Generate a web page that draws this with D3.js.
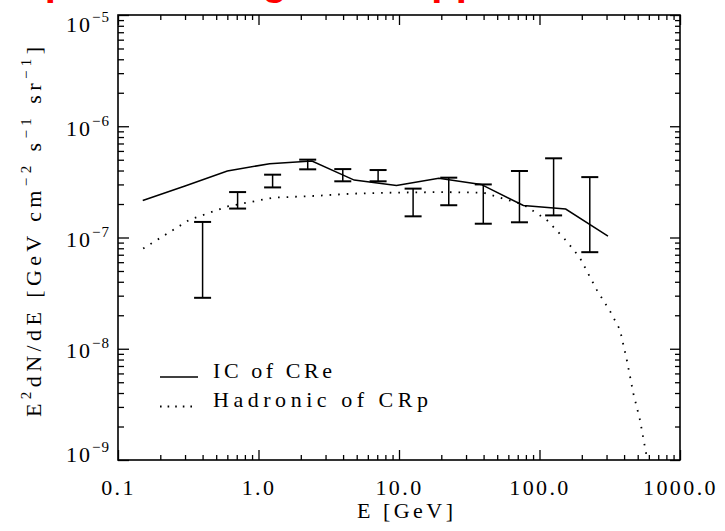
<!DOCTYPE html>
<html>
<head>
<meta charset="utf-8">
<script src="https://cdn.jsdelivr.net/npm/d3@7"></script>
<style>
  html, body { margin: 0; padding: 0; background: #fff; }
  svg { display: block; }
  text { font-family: "Liberation Serif", "DejaVu Serif", serif; fill: #000; }
</style>
</head>
<body>
<svg id="chart" width="725" height="531"></svg>
<script>
// Inverse-Compton model of cosmic-ray electrons
const icEnergy = [0.15, 0.3, 0.6, 1.2, 2.4, 4.8, 9.6, 19.2, 38.4, 76.8, 153.6, 307.2];
const icFlux   = [2.15e-7, 2.9e-7, 3.96e-7, 4.61e-7, 4.87e-7, 3.28e-7, 2.94e-7, 3.40e-7, 3.0e-7, 1.94e-7, 1.80e-7, 1.03e-7];

// Hadronic (pion decay) model of cosmic-ray protons
const hadEnergy = [0.151, 0.325, 0.61, 1.27, 2.44, 4.71, 9.06, 19.6, 39.8, 76.7, 112, 156, 194, 255, 318, 374, 418, 465, 519, 582];
const hadFlux   = [7.96e-8, 1.45e-7, 1.91e-7, 2.28e-7, 2.36e-7, 2.48e-7, 2.53e-7, 2.56e-7, 2.53e-7, 1.98e-7, 1.45e-7, 9.27e-8, 6.56e-8, 3.40e-8, 2.17e-8, 1.48e-8, 7.96e-9, 3.99e-9, 2.29e-9, 1.04e-9];

// Measured spectrum: energy bins with lower / upper flux bounds
const obsEnergy = [0.40, 0.71, 1.26, 2.24, 3.98, 7.1, 12.6, 22.6, 39.8, 72, 126, 228];
const obsLow    = [2.87e-8, 1.82e-7, 2.82e-7, 4.10e-7, 3.20e-7, 3.20e-7, 1.55e-7, 1.95e-7, 1.33e-7, 1.37e-7, 1.58e-7, 7.38e-8];
const obsHigh   = [1.38e-7, 2.56e-7, 3.67e-7, 5.01e-7, 4.12e-7, 4.04e-7, 2.75e-7, 3.45e-7, 3.0e-7, 3.96e-7, 5.15e-7, 3.49e-7];

// Axis ticks
const xMajor = [0.1, 1, 10, 100, 1000];
const xMinor = [-1, 0, 1, 2].flatMap(k => [2,3,4,5,6,7,8,9].map(m => m * Math.pow(10, k)));
const yMajorExp = [-9, -8, -7, -6, -5];
const yMinor = [-9, -8, -7, -6].flatMap(k => [2,3,4,5,6,7,8,9].map(m => m * Math.pow(10, k)));

const titleText = "Spectra fitting: both approaches";
const legendLabels = ["IC of CRe", "Hadronic of CRp"];

const pLeft = 118, pRight = 680, pTop = 15, pBottom = 460;

const svg = d3.select("#chart");

const x = d3.scaleLog().domain([0.1, 1000]).range([pLeft, pRight]);
const y = d3.scaleLog().domain([1e-9, 1e-5]).range([pBottom, pTop]);

// Title (sits above the page top, only descenders remain on screen)
svg.append("text")
  .attr("x", 18).attr("y", -5)
  .style("font-family", "'Liberation Sans', Arial, sans-serif")
  .style("font-weight", "bold")
  .style("font-size", "40px")
  .style("fill", "#ff0000")
  .text(titleText);

svg.append("clipPath").attr("id", "clip")
  .append("rect").attr("x", pLeft).attr("y", pTop)
  .attr("width", pRight - pLeft).attr("height", pBottom - pTop);

// Axes with inward ticks on all four sides
function styleAxis(g) {
  g.select(".domain").remove();
  g.selectAll(".tick line").attr("stroke", "#000").attr("stroke-width", 1.3);
}
const fmtX = d3.format(".1f");

svg.append("g").attr("transform", `translate(0,${pBottom})`)
  .call(d3.axisBottom(x).tickValues(xMinor).tickSize(-5).tickFormat(""))
  .call(styleAxis);
const xb = svg.append("g").attr("transform", `translate(0,${pBottom})`)
  .call(d3.axisBottom(x).tickValues(xMajor).tickSize(-10).tickPadding(19.5).tickFormat(fmtX))
  .call(styleAxis);
xb.attr("font-family", null).attr("font-size", null);
xb.selectAll("text")
  .style("font-size", "22px").style("letter-spacing", "2.4px")
  .attr("fill", "#000");

svg.append("g").attr("transform", `translate(0,${pTop})`)
  .call(d3.axisTop(x).tickValues(xMinor).tickSize(-5).tickFormat(""))
  .call(styleAxis);
svg.append("g").attr("transform", `translate(0,${pTop})`)
  .call(d3.axisTop(x).tickValues(xMajor).tickSize(-10).tickFormat(""))
  .call(styleAxis);

svg.append("g").attr("transform", `translate(${pLeft},0)`)
  .call(d3.axisLeft(y).tickValues(yMinor).tickSize(-6).tickFormat(""))
  .call(styleAxis);
svg.append("g").attr("transform", `translate(${pLeft},0)`)
  .call(d3.axisLeft(y).tickValues(yMajorExp.map(e => Math.pow(10, e))).tickSize(-11).tickFormat(""))
  .call(styleAxis);
svg.append("g").attr("transform", `translate(${pRight},0)`)
  .call(d3.axisRight(y).tickValues(yMinor).tickSize(-5).tickFormat(""))
  .call(styleAxis);
svg.append("g").attr("transform", `translate(${pRight},0)`)
  .call(d3.axisRight(y).tickValues(yMajorExp.map(e => Math.pow(10, e))).tickSize(-10).tickFormat(""))
  .call(styleAxis);

// Y tick labels as powers of ten
yMajorExp.forEach(e => {
  const base = Math.max(32, Math.min(461.5, y(Math.pow(10, e)) + 9.5));
  const t = svg.append("text")
    .attr("x", 110).attr("y", base)
    .attr("text-anchor", "end")
    .style("font-size", "22px");
  t.append("tspan").style("letter-spacing", "2px").text("10");
  t.append("tspan").attr("dy", -10).style("font-size", "15px").style("letter-spacing", "1px")
    .text("\u2212" + Math.abs(e));
});

// Frame
svg.append("rect")
  .attr("x", pLeft).attr("y", pTop)
  .attr("width", pRight - pLeft).attr("height", pBottom - pTop)
  .attr("fill", "none").attr("stroke", "#000").attr("stroke-width", 1.6);

// Axis titles
svg.append("text")
  .attr("x", 405).attr("y", 518)
  .attr("text-anchor", "middle")
  .attr("textLength", 96).attr("lengthAdjust", "spacing")
  .style("font-size", "22px")
  .text("E [GeV]");

const yt = svg.append("text")
  .attr("transform", "translate(41,232) rotate(-90)")
  .attr("text-anchor", "middle")
  .attr("textLength", 370).attr("lengthAdjust", "spacing")
  .style("font-size", "22px");
yt.append("tspan").text("E");
yt.append("tspan").attr("dy", -10).style("font-size", "15px").text("2");
yt.append("tspan").attr("dy", 10).text("dN/dE [GeV cm");
yt.append("tspan").attr("dy", -10).style("font-size", "15px").text("\u22122");
yt.append("tspan").attr("dy", 10).text(" s");
yt.append("tspan").attr("dy", -10).style("font-size", "15px").text("\u22121");
yt.append("tspan").attr("dy", 10).text(" sr");
yt.append("tspan").attr("dy", -10).style("font-size", "15px").text("\u22121");
yt.append("tspan").attr("dy", 10).text("]");

// Model curves
const body = svg.append("g").attr("clip-path", "url(#clip)");
const line = d3.line().x(d => x(d[0])).y(d => y(d[1]));

body.append("path")
  .datum(hadEnergy.map((e, i) => [e, hadFlux[i]]))
  .attr("d", line)
  .attr("fill", "none").attr("stroke", "#000")
  .attr("stroke-width", 1.8).attr("stroke-dasharray", "1.6 7");

body.append("path")
  .datum(icEnergy.map((e, i) => [e, icFlux[i]]))
  .attr("d", line)
  .attr("fill", "none").attr("stroke", "#000").attr("stroke-width", 1.5);

// Error bars
const bars = body.selectAll(".bar")
  .data(obsEnergy.map((e, i) => ({ e, lo: obsLow[i], hi: obsHigh[i] })))
  .join("g").attr("class", "bar");
bars.append("line")
  .attr("x1", d => x(d.e)).attr("x2", d => x(d.e))
  .attr("y1", d => y(d.lo)).attr("y2", d => y(d.hi))
  .attr("stroke", "#000").attr("stroke-width", 1.5);
bars.append("line")
  .attr("x1", d => x(d.e) - 8.5).attr("x2", d => x(d.e) + 8.5)
  .attr("y1", d => y(d.lo)).attr("y2", d => y(d.lo))
  .attr("stroke", "#000").attr("stroke-width", 2);
bars.append("line")
  .attr("x1", d => x(d.e) - 8.5).attr("x2", d => x(d.e) + 8.5)
  .attr("y1", d => y(d.hi)).attr("y2", d => y(d.hi))
  .attr("stroke", "#000").attr("stroke-width", 2);

// Legend
const legend = svg.append("g");
legend.append("line").attr("x1", 160).attr("x2", 198).attr("y1", 377).attr("y2", 377)
  .attr("stroke", "#000").attr("stroke-width", 1.5);
legend.append("line").attr("x1", 160).attr("x2", 198).attr("y1", 406.5).attr("y2", 406.5)
  .attr("stroke", "#000").attr("stroke-width", 1.8).attr("stroke-dasharray", "1.6 6");
legend.append("text").attr("x", 213).attr("y", 378)
  .attr("textLength", 119).attr("lengthAdjust", "spacing")
  .style("font-size", "22px").text(legendLabels[0]);
legend.append("text").attr("x", 213).attr("y", 406.5)
  .attr("textLength", 215).attr("lengthAdjust", "spacing")
  .style("font-size", "22px").text(legendLabels[1]);
</script>
</body>
</html>
